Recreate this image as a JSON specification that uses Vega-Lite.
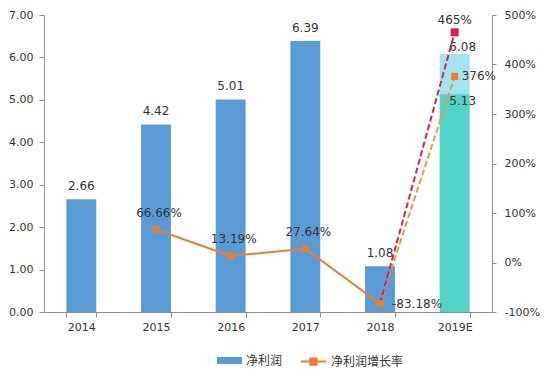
{
  "$schema": "https://vega.github.io/schema/vega-lite/v6.json",
  "width": 448,
  "height": 297,
  "autosize": {"type": "none"},
  "padding": {"left": 44, "top": 15, "right": 55, "bottom": 66},
  "background": "white",
  "config": {
    "view": {"stroke": null},
    "font": "DejaVu Sans, Noto Sans CJK SC",
    "locale": {"number": {"decimal": ".", "thousands": ",", "grouping": [3], "currency": ["$", ""], "minus": "-"}},
    "axis": {
      "labelFont": "DejaVu Sans",
      "labelFontSize": 11,
      "labelColor": "#333333",
      "domainColor": "#8c8c8c",
      "tickColor": "#8c8c8c",
      "grid": false,
      "title": null
    },
    "legend": {
      "labelFont": "Noto Sans CJK SC",
      "labelFontSize": 12,
      "labelColor": "#333333"
    }
  },
  "datasets": {
    "bars": [
      {"year": "2014", "value": 2.66, "kind": "净利润"},
      {"year": "2015", "value": 4.42, "kind": "净利润"},
      {"year": "2016", "value": 5.01, "kind": "净利润"},
      {"year": "2017", "value": 6.39, "kind": "净利润"},
      {"year": "2018", "value": 1.08, "kind": "净利润"},
      {"year": "2019E", "value": 6.08, "kind": "预测上限"},
      {"year": "2019E", "value": 5.13, "kind": "预测下限"}
    ],
    "growth": [
      {"year": "2015", "rate": 0.6666, "series": "净利润增长率"},
      {"year": "2016", "rate": 0.1319, "series": "净利润增长率"},
      {"year": "2017", "rate": 0.2764, "series": "净利润增长率"},
      {"year": "2018", "rate": -0.8318, "series": "净利润增长率"}
    ],
    "forecast": [
      {"year": "2018", "rate": -0.8318, "series": "预测A"},
      {"year": "2019E", "rate": 3.76, "series": "预测A"},
      {"year": "2018", "rate": -0.8318, "series": "预测B"},
      {"year": "2019E", "rate": 4.65, "series": "预测B"}
    ]
  },
  "encoding": {
    "x": {
      "field": "year",
      "type": "nominal",
      "scale": {"domain": ["2014", "2015", "2016", "2017", "2018", "2019E"], "paddingInner": 0.6, "paddingOuter": 0.3},
      "axis": {"labelAngle": 0, "tickBand": "extent", "tickSize": 5, "labelPadding": 4, "orient": "bottom"}
    }
  },
  "resolve": {"scale": {"y": "independent"}},
  "layer": [
    {
      "data": {"name": "bars"},
      "encoding": {
        "y": {
          "field": "value",
          "type": "quantitative",
          "stack": null,
          "scale": {"domain": [0, 7], "nice": false},
          "axis": {"orient": "left", "values": [0, 1, 2, 3, 4, 5, 6, 7], "format": ".2f", "tickSize": 5, "labelPadding": 6}
        }
      },
      "layer": [
        {
          "mark": {"type": "bar"},
          "encoding": {
            "fill": {
              "field": "kind",
              "type": "nominal",
              "scale": {"domain": ["净利润", "预测上限", "预测下限"], "range": ["#5B9BD5", "#A3E4EE", "#55D3C6"]},
              "legend": {
                "values": ["净利润"],
                "title": null,
                "orient": "none",
                "legendX": 173,
                "legendY": 333,
                "symbolType": "M-1,-0.28L1,-0.28L1,0.28L-1,0.28Z",
                "symbolSize": 625,
                "symbolStrokeWidth": 0,
                "labelOffset": 4
              }
            }
          }
        },
        {
          "transform": [{"filter": "datum.kind === '净利润'"}],
          "mark": {"type": "text", "baseline": "middle", "dy": -13, "fontSize": 12, "color": "#333333", "font": "DejaVu Sans"},
          "encoding": {"text": {"field": "value", "type": "quantitative", "format": ".2f"}}
        },
        {
          "transform": [{"filter": "datum.kind === '预测上限'"}],
          "mark": {"type": "text", "baseline": "middle", "dy": -7, "dx": 8, "fontSize": 12, "color": "#333333", "font": "DejaVu Sans"},
          "encoding": {"text": {"field": "value", "type": "quantitative", "format": ".2f"}}
        },
        {
          "transform": [{"filter": "datum.kind === '预测下限'"}],
          "mark": {"type": "text", "baseline": "middle", "dy": 7, "dx": 8, "fontSize": 12, "color": "#333333", "font": "DejaVu Sans"},
          "encoding": {"text": {"field": "value", "type": "quantitative", "format": ".2f"}}
        }
      ]
    },
    {
      "encoding": {
        "y": {
          "field": "rate",
          "type": "quantitative",
          "scale": {"domain": [-1, 5], "nice": false},
          "axis": {"orient": "right", "values": [-1, 0, 1, 2, 3, 4, 5], "format": ".0%", "tickSize": 4, "labelPadding": 8}
        }
      },
      "layer": [
        {
          "data": {"name": "forecast"},
          "mark": {"type": "line", "strokeWidth": 2, "strokeDash": [6, 3]},
          "encoding": {
            "detail": {"field": "series"},
            "stroke": {
              "field": "series",
              "type": "nominal",
              "scale": {"domain": ["净利润增长率", "预测A", "预测B"], "range": ["#ED7D31", "#EE9450", "#DC1E4A"]},
              "legend": {
                "values": ["净利润增长率"],
                "title": null,
                "orient": "none",
                "legendX": 256,
                "legendY": 333,
                "symbolType": "M-1,0L1,0M-0.25,-0.25L0.25,-0.25L0.25,0.25L-0.25,0.25Z",
                "symbolSize": 625,
                "symbolFillColor": "#ED7D31",
                "symbolStrokeWidth": 2,
                "symbolDash": [],
                "labelOffset": 4
              }
            }
          }
        },
        {
          "data": {"name": "growth"},
          "mark": {"type": "line", "strokeWidth": 2},
          "encoding": {
            "stroke": {
              "field": "series",
              "type": "nominal",
              "legend": {
                "values": ["净利润增长率"],
                "title": null,
                "orient": "none",
                "legendX": 256,
                "legendY": 333,
                "symbolType": "M-1,0L1,0M-0.25,-0.25L0.25,-0.25L0.25,0.25L-0.25,0.25Z",
                "symbolSize": 625,
                "symbolFillColor": "#ED7D31",
                "symbolStrokeWidth": 2,
                "symbolDash": [],
                "labelOffset": 4
              }
            }
          }
        },
        {
          "data": {"name": "growth"},
          "mark": {"type": "point", "shape": "square", "filled": true, "size": 49, "opacity": 1, "color": "#ED7D31"}
        },
        {
          "data": {"name": "forecast"},
          "transform": [{"filter": "datum.year === '2019E' && datum.series === '预测A'"}],
          "mark": {"type": "point", "shape": "square", "filled": true, "size": 49, "opacity": 1, "color": "#ED7D31"}
        },
        {
          "data": {"name": "forecast"},
          "transform": [{"filter": "datum.year === '2019E' && datum.series === '预测B'"}],
          "mark": {"type": "point", "shape": "square", "filled": true, "size": 64, "opacity": 1, "color": "#DC1E4A"}
        },
        {
          "data": {"name": "growth"},
          "transform": [{"filter": "datum.rate > 0"}],
          "mark": {"type": "text", "baseline": "middle", "dy": -17, "dx": 3, "fontSize": 12, "color": "#333333", "font": "DejaVu Sans"},
          "encoding": {"text": {"field": "rate", "type": "quantitative", "format": ".2%"}}
        },
        {
          "data": {"name": "growth"},
          "transform": [{"filter": "datum.rate < 0"}],
          "mark": {"type": "text", "baseline": "middle", "align": "left", "dx": 12, "fontSize": 12, "color": "#333333", "font": "DejaVu Sans"},
          "encoding": {"text": {"field": "rate", "type": "quantitative", "format": ".2%"}}
        },
        {
          "data": {"name": "forecast"},
          "transform": [{"filter": "datum.year === '2019E' && datum.series === '预测A'"}],
          "mark": {"type": "text", "baseline": "middle", "align": "left", "dx": 7, "fontSize": 12, "color": "#333333", "font": "DejaVu Sans"},
          "encoding": {"text": {"field": "rate", "type": "quantitative", "format": ".0%"}}
        },
        {
          "data": {"name": "forecast"},
          "transform": [{"filter": "datum.year === '2019E' && datum.series === '预测B'"}],
          "mark": {"type": "text", "baseline": "middle", "dy": -12, "fontSize": 12, "color": "#333333", "font": "DejaVu Sans"},
          "encoding": {"text": {"field": "rate", "type": "quantitative", "format": ".0%"}}
        }
      ]
    }
  ]
}
